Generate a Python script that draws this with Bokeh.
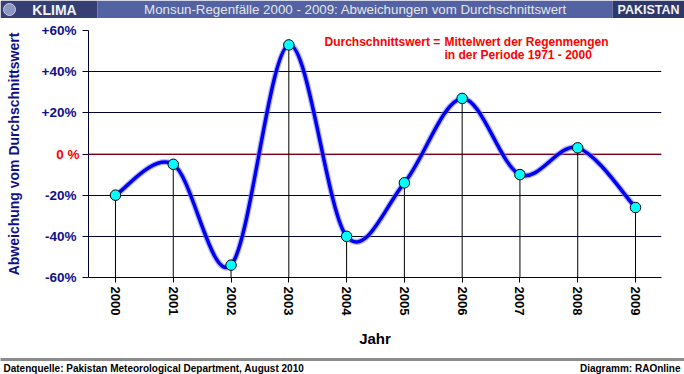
import numpy as np
from bokeh.plotting import figure
from bokeh.layouts import column
from bokeh.models import FixedTicker, Label, Span, ColumnDataSource, LinearAxis
from bokeh.embed import file_html
from bokeh.resources import INLINE

# ---- data ----
years = [2000, 2001, 2002, 2003, 2004, 2005, 2006, 2007, 2008, 2009]
deviation = [-20, -5, -54, 53, -40, -14, 27, -10, 3, -26]
ytick_values = [-60, -40, -20, 0, 20, 40, 60]
ytick_labels = ["-60%", "-40%", "-20%", "0 %", "+20%", "+40%", "+60%"]
title_text = "Monsun-Regenfälle 2000 - 2009: Abweichungen vom Durchschnittswert"
note_left = "Durchschnittswert ="
note_right1 = "Mittelwert der Regenmengen"
note_right2 = "in der Periode 1971 - 2000"
source_text = "Datenquelle:  Pakistan Meteorological Department, August 2010"
credit_text = "Diagramm: RAOnline"

FONT = "Liberation Sans"
NARROW = "'Liberation Sans Narrow', 'Liberation Sans', Arial, sans-serif"
NAVY = "#10108a"
GRID = "#000033"
W = 684

# ---- banner ----
banner = figure(width=W, height=18, x_range=(0, W), y_range=(0, 18),
                output_backend="svg", toolbar_location=None,
                x_axis_location=None, y_axis_location=None,
                min_border=0, outline_line_color=None, frame_align=False)
banner.grid.visible = False
banner.quad(left=[0, 97, 612], right=[97, 612, W], bottom=[0, 0, 0], top=[18, 18, 18],
            fill_color=["#353f74", "#5262a2", "#2e3869"], line_color=None)
banner.scatter(x=[9], y=[9], size=12, fill_color="#8d96c4", line_color="#c8cce6")
banner.add_layout(Label(x=54, y=9, text="KLIMA", text_font=FONT, text_font_style="bold",
                        text_font_size="14px", text_color="#f2f2f2",
                        text_align="center", text_baseline="middle"))
banner.add_layout(Label(x=355, y=9, text=title_text, text_font=NARROW,
                        text_font_size="13.3px", text_color="#e6e6e6",
                        text_align="center", text_baseline="middle"))
banner.add_layout(Label(x=648, y=9, text="PAKISTAN", text_font=FONT, text_font_style="bold",
                        text_font_size="12.5px", text_color="#f2f2f2",
                        text_align="center", text_baseline="middle"))

# ---- main chart ----
x_start, x_end = 1999.533, 2009.45
p = figure(width=W, height=332, x_range=(x_start, x_end), y_range=(-60, 60),
           output_backend="svg", toolbar_location=None,
           min_border_left=88, min_border_right=23, min_border_top=12, min_border_bottom=73,
           outline_line_color=None, background_fill_color=None, border_fill_color=None,
           frame_align=False)

p.xgrid.visible = False
p.ygrid.ticker = FixedTicker(ticks=ytick_values)
p.ygrid.grid_line_color = GRID
p.ygrid.grid_line_width = 1

# inner y axis: axis line, ticks and the red "0 %" label
inner = p.yaxis[0]
inner.ticker = FixedTicker(ticks=ytick_values)
inner.major_label_overrides = {v: (l if v == 0 else "") for v, l in zip(ytick_values, ytick_labels)}
inner.major_label_text_font = FONT
inner.major_label_text_font_style = "bold"
inner.major_label_text_font_size = "13.5px"
inner.major_label_text_color = "red"
inner.major_label_standoff = 3
inner.axis_line_color = GRID
inner.major_tick_line_color = GRID
inner.major_tick_out = 6
inner.major_tick_in = 0
inner.minor_tick_line_color = None

# outer y axis: navy labels and the axis title
outer = LinearAxis(ticker=FixedTicker(ticks=ytick_values),
                   major_label_overrides={v: ("" if v == 0 else l) for v, l in zip(ytick_values, ytick_labels)})
outer.major_label_text_font = FONT
outer.major_label_text_font_style = "bold"
outer.major_label_text_font_size = "13.5px"
outer.major_label_text_color = NAVY
outer.major_label_standoff = -23
outer.axis_line_color = None
outer.major_tick_line_color = None
outer.major_tick_out = 0
outer.major_tick_in = 0
outer.minor_tick_line_color = None
outer.axis_label = "Abweichung vom Durchschnittswert"
outer.axis_label_text_font = FONT
outer.axis_label_text_font_style = "bold"
outer.axis_label_text_font_size = "14px"
outer.axis_label_text_color = NAVY
outer.axis_label_standoff = 17
p.add_layout(outer, "left")

p.xaxis.ticker = FixedTicker(ticks=years)
p.xaxis.major_label_orientation = "vertical"
p.xaxis.major_label_text_font = FONT
p.xaxis.major_label_text_font_style = "bold"
p.xaxis.major_label_text_font_size = "13px"
p.xaxis.major_label_text_color = "black"
p.xaxis.major_label_standoff = 4
p.xaxis.axis_line_color = GRID
p.xaxis.major_tick_line_color = "black"
p.xaxis.major_tick_out = 5
p.xaxis.major_tick_in = 0
p.xaxis.minor_tick_line_color = None
p.xaxis.axis_label = "Jahr"
p.xaxis.axis_label_text_font = FONT
p.xaxis.axis_label_text_font_style = "bold"
p.xaxis.axis_label_text_font_size = "15px"
p.xaxis.axis_label_text_color = "black"
p.xaxis.axis_label_standoff = 12

# zero line (red)
p.add_layout(Span(location=0, dimension="width", line_color="red", line_width=1, level="underlay"))

# drop lines
bottom = p.y_range.start
p.segment(x0=years, y0=deviation, x1=years, y1=[bottom] * len(years),
          line_color="black", line_width=1)

# smoothed line (Catmull-Rom style Bezier, computed from the data points)
xs = np.array(years, dtype=float)
ys = np.array(deviation, dtype=float)
xp = np.concatenate([[xs[0]], xs, [xs[-1]]])
yp = np.concatenate([[ys[0]], ys, [ys[-1]]])
k = 1.0 / 6.0
cx0 = xs[:-1] + (xp[2:-1] - xp[0:-3]) * k
cy0 = ys[:-1] + (yp[2:-1] - yp[0:-3]) * k
cx1 = xs[1:] - (xp[3:] - xp[1:-2]) * k
cy1 = ys[1:] - (yp[3:] - yp[1:-2]) * k
src = ColumnDataSource(dict(x0=xs[:-1], y0=ys[:-1], x1=xs[1:], y1=ys[1:],
                            cx0=cx0, cy0=cy0, cx1=cx1, cy1=cy1))
p.bezier(x0="x0", y0="y0", x1="x1", y1="y1", cx0="cx0", cy0="cy0", cx1="cx1", cy1="cy1",
         source=src, line_color="#7a7aff", line_width=6, line_alpha=0.55)
p.bezier(x0="x0", y0="y0", x1="x1", y1="y1", cx0="cx0", cy0="cy0", cx1="cx1", cy1="cy1",
         source=src, line_color="#0000f0", line_width=3.5)

# markers
p.scatter(x=years, y=deviation, size=10.5, fill_color="#00ffff",
          line_color="black", line_width=1)

# note text
p.add_layout(Label(x=2003.618, y=54.5, text=note_left, text_font=FONT, text_font_style="bold",
                   text_font_size="12px", text_color="#ff0000", text_baseline="middle"))
p.add_layout(Label(x=2005.694, y=54.5, text=note_right1, text_font=FONT, text_font_style="bold",
                   text_font_size="12px", text_color="#ff0000", text_baseline="middle"))
p.add_layout(Label(x=2005.694, y=48.3, text=note_right2, text_font=FONT, text_font_style="bold",
                   text_font_size="12px", text_color="#ff0000", text_baseline="middle"))

# ---- footer ----
footer = figure(width=W, height=24, x_range=(0, W), y_range=(0, 24),
                output_backend="svg", toolbar_location=None,
                x_axis_location=None, y_axis_location=None,
                min_border=0, outline_line_color=None, frame_align=False,
                background_fill_color="white", border_fill_color="white")
footer.grid.visible = False
footer.quad(left=[0, 0], right=[W, W], bottom=[13.5, 13.5], top=[16.5, 16.5],
            fill_color=["#8c8c8c", "#8c8c8c"], line_color=None)
footer.add_layout(Label(x=3, y=6, text=source_text, text_font=NARROW, text_font_style="bold",
                        text_font_size="10px", text_color="black", text_baseline="middle"))
footer.add_layout(Label(x=680, y=6, text=credit_text, text_font=NARROW, text_font_style="bold",
                        text_font_size="10px", text_color="black", text_align="right",
                        text_baseline="middle"))

layout = column(banner, p, footer, spacing=0)
open("out.html", "w").write(file_html(layout, INLINE))
